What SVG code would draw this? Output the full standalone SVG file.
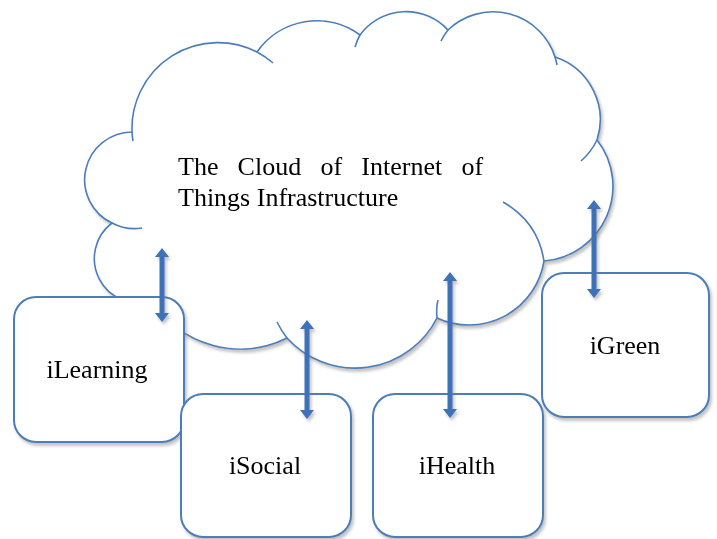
<svg xmlns="http://www.w3.org/2000/svg" width="717" height="539" viewBox="0 0 717 539">
  <defs>
    <filter id="soft" x="-10%" y="-10%" width="130%" height="130%">
      <feDropShadow dx="2" dy="3" stdDeviation="1.6" flood-color="#7a7a7a" flood-opacity="0.45"/>
    </filter>
    <marker id="head" viewBox="0 0 9 14" refX="0.5" refY="7" markerWidth="9" markerHeight="14" markerUnits="userSpaceOnUse" orient="auto-start-reverse">
      <path d="M0,0 L9,7 L0,14 z" fill="#3d72b8"/>
    </marker>
  </defs>
  <style>
    .outline { fill: #ffffff; stroke: #4a7ebb; stroke-width: 1.6; }
    .crease { fill: none; stroke: #4a7ebb; stroke-width: 1.6; }
    .box { fill: #ffffff; stroke: #4a7ebb; stroke-width: 2; }
    .label { font-family: "Liberation Serif", "Times New Roman", serif; font-size: 26px; fill: #000000; }
    .mid { text-anchor: middle; }
    .link { stroke: #3d72b8; stroke-width: 5; fill: none; marker-start: url(#head); marker-end: url(#head); }
  </style>

  <rect width="717" height="539" fill="#ffffff"/>

  <!-- cloud -->
  <g id="cloud" filter="url(#soft)">
    <path class="outline" d="M112,223
      A47.8,47.8 0 0 1 132,132
      A86,86 0 0 1 257,52
      A73,73 0 0 1 360,35
      A57,57 0 0 1 448,30
      A65,65 0 0 1 555,57
      A66,66 0 0 1 597,140
      A75,75 0 0 1 544,261
      A76,76 0 0 1 437,318
      A92,92 0 0 1 287,338
      A105,105 0 0 1 152,301
      A44.5,44.5 0 0 1 112,223 Z"/>
    <!-- inner creases between bumps -->
    <path class="crease" d="M112,223 A47.8,47.8 0 0 0 142,228"/>
    <path class="crease" d="M132,132 A86,86 0 0 0 133,141"/>
    <path class="crease" d="M257,52 A86,86 0 0 1 273,63"/>
    <path class="crease" d="M360,35 A57,57 0 0 0 355,47"/>
    <path class="crease" d="M448,30 A65,65 0 0 0 441,41"/>
    <path class="crease" d="M555,57 A65,65 0 0 1 557,65"/>
    <path class="crease" d="M597,140 A66,66 0 0 1 581,161"/>
    <path class="crease" d="M503,202 Q538,222 544,261"/>
    <path class="crease" d="M437,318 Q436,308 438,300"/>
    <path class="crease" d="M287,338 A92,92 0 0 1 277,322"/>
    <text class="label" y="175"><tspan x="178">The</tspan><tspan x="237.6">Cloud</tspan><tspan x="320.4">of</tspan><tspan x="361.3">Internet</tspan><tspan x="461.4">of</tspan></text>
    <text class="label" x="178" y="206">Things Infrastructure</text>
  </g>

  <!-- service boxes -->
  <g id="ilearning" filter="url(#soft)">
    <rect class="box" x="14" y="297" width="170" height="145" rx="22" ry="22"/>
    <text class="label mid" x="97" y="378">iLearning</text>
  </g>
  <g id="isocial" filter="url(#soft)">
    <rect class="box" x="181" y="394" width="170" height="143" rx="22" ry="22"/>
    <text class="label mid" x="265" y="474">iSocial</text>
  </g>
  <g id="ihealth" filter="url(#soft)">
    <rect class="box" x="373" y="394" width="170" height="143" rx="22" ry="22"/>
    <text class="label mid" x="457" y="474">iHealth</text>
  </g>
  <g id="igreen" filter="url(#soft)">
    <rect class="box" x="542" y="273" width="167" height="144" rx="22" ry="22"/>
    <text class="label mid" x="625" y="354">iGreen</text>
  </g>

  <!-- two-way links between the cloud and each service -->
  <g id="connectors" filter="url(#soft)">
    <line class="link" x1="162" y1="256.5" x2="162" y2="313.5"/>
    <line class="link" x1="307" y1="328.5" x2="307" y2="410.5"/>
    <line class="link" x1="450" y1="280.5" x2="450" y2="409.5"/>
    <line class="link" x1="594" y1="208.5" x2="594" y2="289.5"/>
  </g>
</svg>
